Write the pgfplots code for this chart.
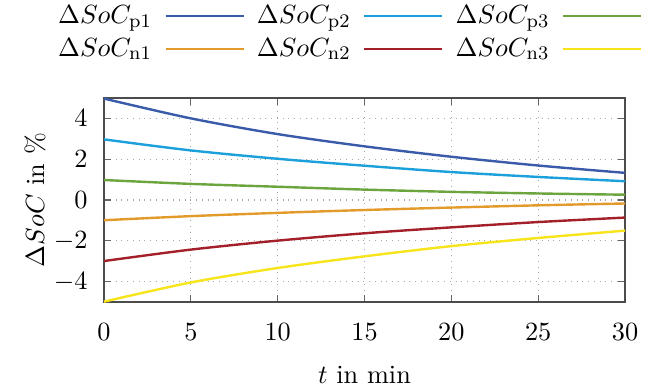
\documentclass[border=0pt,11pt]{standalone}
\usepackage{pgfplots}
\pgfplotsset{compat=1.18}
\definecolor{cp1}{HTML}{3A5BA9}
\definecolor{cp2}{HTML}{1BA0DC}
\definecolor{cp3}{HTML}{6CA43E}
\definecolor{cn1}{HTML}{E29B2A}
\definecolor{cn2}{HTML}{A3202A}
\definecolor{cn3}{HTML}{F7E41A}
\begin{document}
\begin{tikzpicture}
\begin{axis}[
  scale only axis,
  width=217pt, height=85pt,
  xmin=0, xmax=30, ymin=-5, ymax=5,
  xtick={0,5,10,15,20,25,30},
  ytick={-4,-2,0,2,4},
  tick align=inside,
  major tick length=3pt,
  every tick/.style={black!60, line width=0.5pt},
  axis line style={black!70, line width=0.6pt},
  grid=major,
  major grid style={black!35, dotted, line width=0.5pt},
  xticklabel style={yshift=-5pt},
  yticklabel style={xshift=-3pt},
  xlabel={$t$ in min},
  ylabel={$\Delta SoC$ in \%},
  xlabel style={at={(rel axis cs:0.5,-0.358)}, anchor=center},
  ylabel style={at={(rel axis cs:-0.1324,0.5)}, anchor=center, rotate=0},
  legend columns=3,
  legend plot pos=right,
  legend style={at={(rel axis cs:0.468,1.32)}, anchor=center, draw=none, fill=none,
    inner sep=0pt, /tikz/every even column/.append style={column sep=3pt},
    /tikz/every odd column/.append style={column sep=3.2pt},
    row sep=0.5pt},
  legend image code/.code={\draw[#1] (0pt,0pt) -- (32.5pt,0pt);},
  every axis plot/.append style={line width=1pt, smooth},
]
\coordinate (bbsw) at (rel axis cs:-0.1996,-0.431);
\coordinate (bbne) at (rel axis cs:1.0441,1.480);
\addplot[cp1] coordinates {(0,4.97) (5,4.0) (10,3.23) (15,2.63) (20,2.12) (25,1.69) (30,1.33)};
\addlegendentry{$\Delta SoC_{\mathrm{p1}}$}
\addplot[cp2] coordinates {(0,2.97) (5,2.43) (10,2.02) (15,1.68) (20,1.37) (25,1.13) (30,0.92)};
\addlegendentry{$\Delta SoC_{\mathrm{p2}}$}
\addplot[cp3] coordinates {(0,0.98) (5,0.79) (10,0.65) (15,0.51) (20,0.40) (25,0.32) (30,0.26)};
\addlegendentry{$\Delta SoC_{\mathrm{p3}}$}
\addplot[cn1] coordinates {(0,-0.99) (5,-0.79) (10,-0.63) (15,-0.49) (20,-0.37) (25,-0.26) (30,-0.17)};
\addlegendentry{$\Delta SoC_{\mathrm{n1}}$}
\addplot[cn2] coordinates {(0,-2.99) (5,-2.43) (10,-1.99) (15,-1.63) (20,-1.34) (25,-1.08) (30,-0.86)};
\addlegendentry{$\Delta SoC_{\mathrm{n2}}$}
\addplot[cn3] coordinates {(0,-4.98) (5,-4.04) (10,-3.33) (15,-2.76) (20,-2.26) (25,-1.86) (30,-1.50)};
\addlegendentry{$\Delta SoC_{\mathrm{n3}}$}
\end{axis}
\pgfresetboundingbox
\useasboundingbox (bbsw) rectangle (bbne);
\end{tikzpicture}
\end{document}
